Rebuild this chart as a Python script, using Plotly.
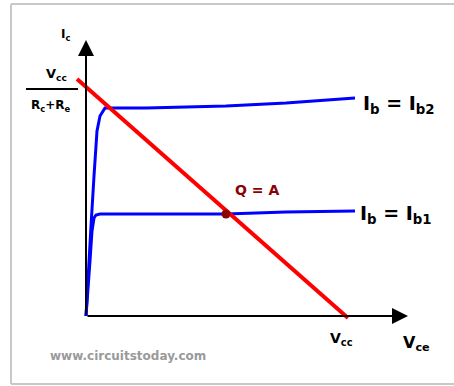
import plotly.graph_objects as go

# ── Data (Vce along x, Ic along y, arbitrary units) ───────────────────────────
VCC = 260        # load line meets the Vce axis
IC_SAT = 229     # Vcc / (Rc + Re), load line meets the Ic axis

load_vce = [-9, 262]
load_ic = [237, -2]

ib2_vce = [0, 2, 5, 8, 11, 14, 19, 60, 140, 200, 269]
ib2_ic = [0, 40, 90, 140, 185, 200, 208, 208, 210, 213, 218]

ib1_vce = [0, 2, 4, 6, 8, 10, 14, 140, 200, 269]
ib1_ic = [0, 25, 55, 85, 98, 101, 102, 102, 104, 105]

q_vce = [140]
q_ic = [102]

AX_X_END = 322
AX_Y_END = 276

FONT = "DejaVu Sans"
C_RED = "#ff0000"
C_BLUE = "#0000ff"
C_Q = "#8b0000"

fig = go.Figure()

fig.add_trace(go.Scatter(x=ib2_vce, y=ib2_ic, mode="lines",
                         line=dict(color=C_BLUE, width=3)))
fig.add_trace(go.Scatter(x=ib1_vce, y=ib1_ic, mode="lines",
                         line=dict(color=C_BLUE, width=3)))
fig.add_trace(go.Scatter(x=load_vce, y=load_ic, mode="lines",
                         line=dict(color=C_RED, width=4)))
fig.add_trace(go.Scatter(x=q_vce, y=q_ic, mode="markers",
                         marker=dict(color=C_Q, size=9)))

# axes with arrow heads
for tip, tail in [((AX_X_END, 0), (0, 0)), ((0, AX_Y_END), (0, 0))]:
    fig.add_annotation(x=tip[0], y=tip[1], ax=tail[0], ay=tail[1],
                       xref="x", yref="y", axref="x", ayref="y",
                       text="", showarrow=True, arrowhead=2,
                       arrowsize=1.6, arrowwidth=2, arrowcolor="black")

def label(x, y, text, size, color="black"):
    fig.add_annotation(x=x, y=y, xref="x", yref="y", text=text,
                       showarrow=False,
                       font=dict(family=FONT, size=size, color=color))

label(-21, 281, "<b>I<sub>c</sub></b>", 12)
label(-30, 242, "<b>V<sub>cc</sub></b>", 13)
label(-35, 210, "<b>R<sub>c</sub>+R<sub>e</sub></b>", 12)
label(313, 212, "<b>I<sub>b</sub> = I<sub>b2</sub></b>", 19)
label(310, 102, "<b>I<sub>b</sub> = I<sub>b1</sub></b>", 19)
label(171, 126, "<b>Q = A</b>", 14, C_Q)
label(VCC - 5, -23, "<b>V<sub>cc</sub></b>", 14)
label(330, -27, "<b>V<sub>ce</sub></b>", 16)
label(42, -40, "<b>www.circuitstoday.com</b>", 12, "#9a9a9a")

# fraction bar for Vcc / (Rc+Re)
fig.add_shape(type="line", x0=-60, x1=-8, y0=IC_SAT - 2, y1=IC_SAT - 2,
              xref="x", yref="y", line=dict(color="black", width=2))

# grey picture frame
frame = dict(color="#c8c8c8", width=2)
fig.add_shape(type="line", xref="paper", yref="paper",
              x0=11 / 454, x1=11 / 454, y0=1 - 4 / 386, y1=1 - 384 / 386,
              line=frame)
fig.add_shape(type="line", xref="paper", yref="paper",
              x0=11 / 454, x1=1, y0=1 - 4 / 386, y1=1 - 4 / 386, line=frame)
fig.add_shape(type="line", xref="paper", yref="paper",
              x0=11 / 454, x1=1, y0=1 - 384 / 386, y1=1 - 384 / 386,
              line=frame)

fig.update_xaxes(range=[-86, 368], visible=False, fixedrange=True)
fig.update_yaxes(range=[-70, 316], visible=False, fixedrange=True)
fig.update_layout(width=454, height=386, showlegend=False,
                  margin=dict(l=0, r=0, t=0, b=0),
                  plot_bgcolor="white", paper_bgcolor="white")

# the page body has a default 8px margin; drop it so the figure fills the window
fig.write_html("out.html", config={"displayModeBar": False},
               post_script="document.body.style.margin='0px';"
                           "document.body.style.overflow='hidden';")
